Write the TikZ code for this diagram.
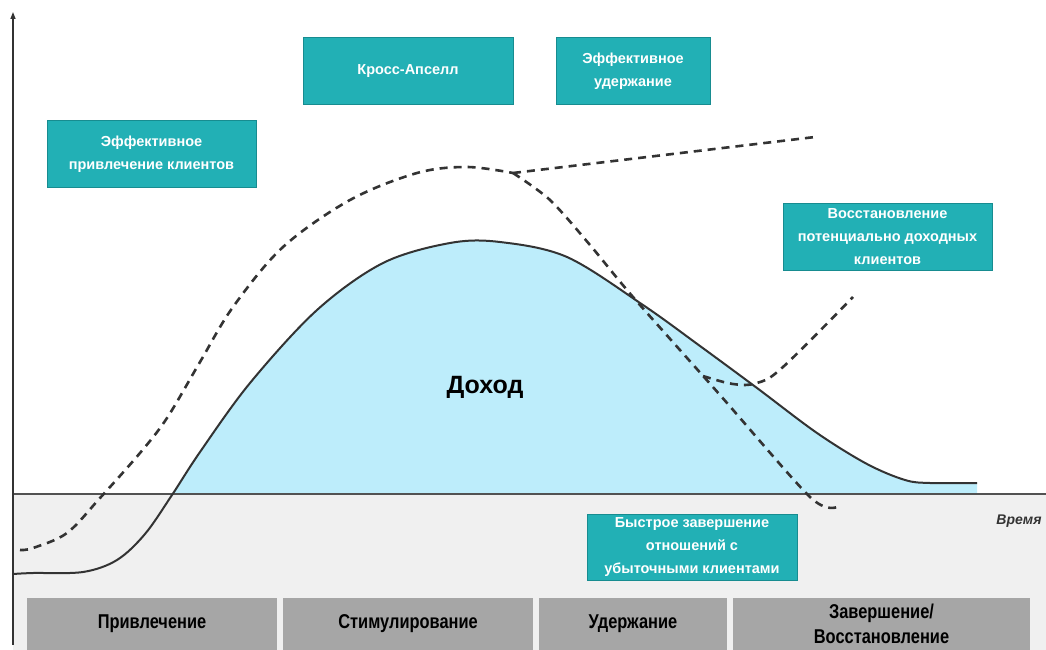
\documentclass[tikz,border=0pt]{standalone}
\usepackage{fontspec}
\setmainfont{Liberation Sans}
\newfontfamily\narrowfont[FakeStretch=0.82]{Liberation Sans}
\usetikzlibrary{arrows.meta}
\definecolor{teal1}{HTML}{22B0B5}
\definecolor{teal2}{HTML}{178C90}
\definecolor{barg}{HTML}{A6A6A6}
\definecolor{lblue}{HTML}{BDEDFB}
\definecolor{bggray}{HTML}{F0F0F0}
\definecolor{ink}{HTML}{333333}
\tikzset{
  tealbox/.style={draw=teal2, line width=1pt, fill=teal1, text=white, font=\bfseries\fontsize{14.5}{23}\selectfont, align=center, inner sep=0pt},
  barbox/.style={fill=barg, text=black, font=\narrowfont\bfseries\fontsize{20}{25}\selectfont, align=center, inner sep=0pt},
  curve/.style={draw=ink, line width=2pt},
  dcurve/.style={draw=ink, line width=2.6pt, dash pattern=on 8pt off 6pt},
}
\begin{document}
\begin{tikzpicture}[x=1pt,y=-1pt]
\useasboundingbox (0,0) rectangle (1046,650);
% background below baseline
\fill[bggray] (13,494) rectangle (1046,650);
% filled revenue area
\begin{scope}
\clip (13,0) rectangle (1046,494);
\fill[lblue] plot[smooth, tension=0.55] coordinates {(13,574) (33,573) (83,572) (117,560) (145,534) (172,495) (200,452) (250,383) (317,310) (383,263) (450,243) (500,242) (567,257) (643,305) (700,346) (757,388) (817,433) (867,464) (905,480) (930,483) (977,483)} -- (977,494) -- (13,494) -- cycle;
\end{scope}
% baseline and axis
\draw[draw=ink!85, line width=1.6pt] (13,494) -- (1046,494);
\draw[draw=ink, line width=1.3pt, -{Triangle[length=7pt,width=5pt]}] (13,645) -- (13,12);
% revenue curve
\draw[curve] plot[smooth, tension=0.55] coordinates {(13,574) (33,573) (83,572) (117,560) (145,534) (172,495) (200,452) (250,383) (317,310) (383,263) (450,243) (500,242) (567,257) (643,305) (700,346) (757,388) (817,433) (867,464) (905,480) (930,483) (977,483)};
% dashed curves
\draw[dcurve] plot[smooth, tension=0.55] coordinates {(20,550) (33,548) (67,533) (100,498) (140,453) (167,418) (200,362) (233,307) (283,247) (350,200) (417,173) (467,167) (513,173)};
\coordinate (j) at (513,173);
\coordinate (topend) at (815,137);
\draw[dcurve] (j) -- (topend);
\draw[dcurve] plot[smooth, tension=0.5] coordinates {(513,173) (550,200) (590,245) (633,297) (720,395) (810,497) (837,507)};
\draw[dcurve] plot[smooth, tension=0.6] coordinates {(703,376) (733,384) (757,383) (783,367) (853,297)};
% teal boxes
\node[tealbox, minimum width=209pt, minimum height=66pt] (b1) at (151.5,154) {Эффективное\\привлечение клиентов};
\node[tealbox, minimum width=210pt, minimum height=67pt] (b2) at (408,71.5) {Кросс-Апселл};
\node[tealbox, minimum width=154pt, minimum height=67pt] (b3) at (633,71.5) {Эффективное\\удержание};
\node[tealbox, minimum width=209pt, minimum height=67pt] (b4) at (887.5,236.5) {Восстановление\\потенциально доходных\\клиентов};
\node[tealbox, minimum width=210pt, minimum height=66pt] (b5) at (692,547) {Быстрое завершение\\отношений с\\убыточными клиентами};
% labels
\node[font=\bfseries\fontsize{25}{27}\selectfont, text=black] (doh) at (485,387) {Доход};
\node[font=\bfseries\itshape\fontsize{14}{16}\selectfont, text=ink] (vr) at (1019,521) {Время};
% bottom bars
\node[barbox, minimum width=250pt, minimum height=52pt] (p1) at (152,624) {Привлечение};
\node[barbox, minimum width=250pt, minimum height=52pt] (p2) at (408,624) {Стимулирование};
\node[barbox, minimum width=188pt, minimum height=52pt] (p3) at (633,624) {Удержание};
\node[barbox, minimum width=297pt, minimum height=52pt] (p4) at (881.5,624) {Завершение/\\Восстановление};
\end{tikzpicture}
\end{document}
